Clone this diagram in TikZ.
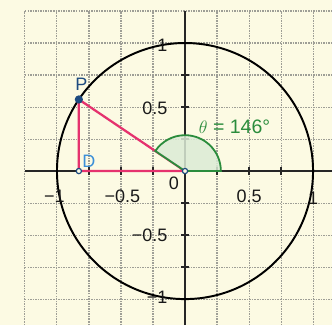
\documentclass[tikz,border=0pt]{standalone}
\usepackage{fontspec}
\setmainfont{Liberation Sans}
\definecolor{bgc}{HTML}{FCFAE3}
\definecolor{gridc}{HTML}{9E9E96}
\definecolor{pinkc}{HTML}{E5326E}
\definecolor{greenc}{HTML}{2A8C3C}
\definecolor{lgreen}{HTML}{DCEBD6}
\definecolor{navyc}{HTML}{1E4B80}
\definecolor{dblue}{HTML}{3B8FD8}
\begin{document}
\begin{tikzpicture}[scale=3,
  lab/.style={font=\fontsize{12}{14}\selectfont, text=black!90, inner sep=0pt},
  gridline/.style={draw=gridc, line width=0.7pt, dash pattern=on 1pt off 0.7pt},
  axisline/.style={draw=black!85, line width=0.9pt},
  pinkline/.style={draw=pinkc, line width=1.5pt},
  smalldot/.style={circle, draw=navyc, fill=bgc, line width=0.8pt, inner sep=0pt, minimum size=3.5pt},
  bigdot/.style={circle, fill=navyc, inner sep=0pt, minimum size=5.5pt},
]
\useasboundingbox (-1.445,-1.203) rectangle (1.148,1.336);
\fill[bgc] (-1.445,-1.203) rectangle (1.148,1.336);
% grid
\foreach \x in {-1.25,-1,-0.75,-0.5,-0.25,0.25,0.5,0.75,1}
  \draw[gridline] (\x,-1.203) -- (\x,1.25);
\foreach \y in {-1,-0.75,-0.5,-0.25,0.25,0.5,0.75,1,1.25}
  \draw[gridline] (-1.25,\y) -- (1.148,\y);
% axes
\draw[axisline] (-1.25,0) -- (1.148,0);
\draw[axisline] (0,-1.203) -- (0,1.25);
\foreach \t in {-1,-0.75,-0.5,-0.25,0.25,0.5,0.75,1} {
  \draw[axisline] (\t,-0.03) -- (\t,0.03);
  \draw[axisline] (-0.03,\t) -- (0.03,\t);
}
% circle
\coordinate (O) at (0,0);
\coordinate (P) at (146:1);
\coordinate (D) at ({cos(146)},0);
\draw[black, line width=1.3pt] (O) circle (1);
% triangle
\draw[pinkline] (P) -- (D) -- (O) -- cycle;
% angle sector
\filldraw[fill=lgreen, draw=greenc, line width=1.2pt, fill opacity=0.85]
  (O) -- (0.28,0) arc (0:146:0.28) -- cycle;
% dots
\node[smalldot] (Odot) at (O) {};
\node[smalldot] (Ddot) at (D) {};
\node[bigdot] (Pdot) at (P) {};
% axis labels
\node[lab, anchor=east] (y1) at (-0.135,0.98) {1};
\node[lab, anchor=east] (y05) at (-0.135,0.49) {0.5};
\node[lab, anchor=east] (ym05) at (-0.135,-0.5) {−0.5};
\node[lab, anchor=east] (ym1) at (-0.135,-0.99) {−1};
\node[lab] (xm1) at (-1.02,-0.2) {−1};
\node[lab] (xm05) at (-0.49,-0.2) {−0.5};
\node[lab] (x05) at (0.5,-0.2) {0.5};
\node[lab] (x1) at (1.0,-0.21) {1};
\node[lab] (zero) at (-0.086,-0.098) {0};
% point labels
\node[lab, text=navyc] (Plab) at (-0.81,0.676) {P};
\node[lab, text=dblue] (Dlab) at (-0.75,0.078) {D};
\node[lab, text=greenc, font=\fontsize{13}{15}\selectfont] (theta) at (0.387,0.348) {$\theta$ = 146°};
\end{tikzpicture}
\end{document}
